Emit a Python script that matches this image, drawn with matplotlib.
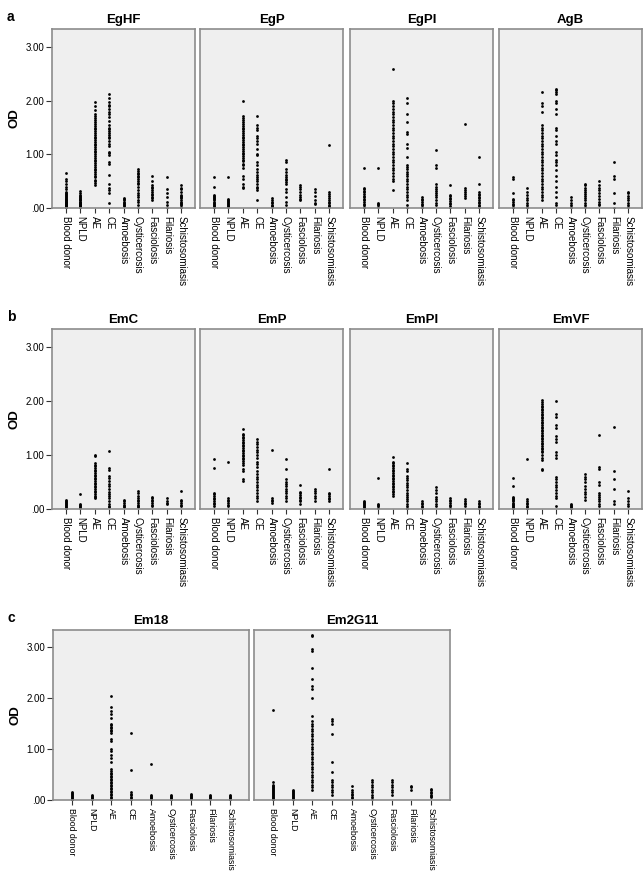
import matplotlib
matplotlib.use('Agg')
import matplotlib.pyplot as plt
import numpy as np

plt.rcParams['font.family'] = ['Liberation Sans', 'DejaVu Sans']

categories = ['Blood donor', 'NPLD', 'AE', 'CE', 'Amoebosis', 'Cysticercosis',
              'Fasciolosis', 'Filariosis', 'Schistosomiasis']
yticks = [0, 1, 2, 3]
ytick_labels = ['.00', '1.00', '2.00', '3.00']

# OD values per category (order as in categories)
EgHF = [
    [0.65, 0.55, 0.5, 0.45, 0.4, 0.35, 0.3, 0.28, 0.26, 0.24, 0.22, 0.2, 0.18, 0.16, 0.15, 0.14,
     0.13, 0.12, 0.11, 0.1, 0.09, 0.08, 0.07, 0.06, 0.05, 0.04, 0.03, 0.02, 0.01, 0.0],
    [0.32, 0.28, 0.25, 0.22, 0.2, 0.18, 0.16, 0.15, 0.14, 0.12, 0.11, 0.1, 0.09, 0.08, 0.07,
     0.06, 0.05, 0.04, 0.03, 0.02, 0.0],
    [1.97, 1.9, 1.83, 1.75, 1.72, 1.68, 1.65, 1.6, 1.57, 1.53, 1.5, 1.47, 1.43, 1.4, 1.37, 1.33,
     1.3, 1.27, 1.24, 1.2, 1.17, 1.14, 1.1, 1.07, 1.04, 1.0, 0.97, 0.94, 0.9, 0.87, 0.84, 0.8,
     0.77, 0.73, 0.7, 0.67, 0.63, 0.6, 0.57, 0.53, 0.5, 0.47, 0.43],
    [2.13, 2.05, 1.97, 1.93, 1.9, 1.85, 1.8, 1.75, 1.7, 1.62, 1.55, 1.5, 1.47, 1.43, 1.4, 1.37,
     1.33, 1.3, 1.25, 1.2, 1.15, 1.05, 1.02, 0.98, 0.85, 0.82, 0.62, 0.45, 0.38, 0.33, 0.28, 0.1],
    [0.18, 0.16, 0.14, 0.12, 0.1, 0.08, 0.06, 0.04],
    [0.72, 0.69, 0.66, 0.63, 0.6, 0.57, 0.54, 0.5, 0.47, 0.44, 0.4, 0.33, 0.28, 0.25, 0.2, 0.15,
     0.12, 0.05, 0.0],
    [0.6, 0.5, 0.43, 0.4, 0.37, 0.34, 0.3, 0.27, 0.24, 0.21, 0.18, 0.15],
    [0.57, 0.35, 0.28, 0.2, 0.12, 0.05, 0.0],
    [0.43, 0.38, 0.35, 0.3, 0.25, 0.22, 0.2, 0.18, 0.15, 0.12, 0.1, 0.07, 0.05, 0.02, 0.0],
]

EgP = [
    [0.58, 0.4, 0.25, 0.22, 0.2, 0.18, 0.16, 0.14, 0.12, 0.1, 0.08, 0.06, 0.04, 0.02, 0.0],
    [0.57, 0.17, 0.15, 0.13, 0.11, 0.09, 0.07, 0.05, 0.03, 0.01],
    [2.0, 1.72, 1.68, 1.65, 1.6, 1.57, 1.53, 1.5, 1.47, 1.43, 1.4, 1.37, 1.33, 1.3, 1.27, 1.23,
     1.2, 1.17, 1.13, 1.1, 1.07, 1.03, 1.0, 0.97, 0.93, 0.9, 0.87, 0.83, 0.8, 0.75, 0.6, 0.55,
     0.45, 0.4, 0.37],
    [1.72, 1.55, 1.5, 1.45, 1.35, 1.3, 1.25, 1.2, 1.1, 1.0, 0.98, 0.85, 0.8, 0.72, 0.68, 0.62,
     0.58, 0.55, 0.5, 0.45, 0.4, 0.38, 0.33, 0.15],
    [0.18, 0.15, 0.12, 0.09, 0.06, 0.03, 0.01],
    [0.9, 0.85, 0.72, 0.67, 0.62, 0.58, 0.55, 0.52, 0.48, 0.45, 0.35, 0.3, 0.2, 0.12, 0.05],
    [0.42, 0.4, 0.35, 0.3, 0.25, 0.2, 0.17, 0.15],
    [0.35, 0.3, 0.22, 0.15, 0.1, 0.07],
    [1.18, 0.3, 0.26, 0.22, 0.18, 0.15, 0.12, 0.09, 0.06, 0.03, 0.01],
]

EgPI = [
    [0.74, 0.38, 0.35, 0.32, 0.29, 0.26, 0.23, 0.2, 0.17, 0.14, 0.11, 0.08, 0.05, 0.02, 0.0],
    [0.74, 0.1, 0.07, 0.05, 0.02],
    [2.59, 2.0, 1.95, 1.9, 1.85, 1.8, 1.75, 1.7, 1.65, 1.6, 1.55, 1.5, 1.45, 1.4, 1.35, 1.3,
     1.25, 1.2, 1.15, 1.1, 1.05, 1.0, 0.95, 0.9, 0.85, 0.8, 0.75, 0.7, 0.65, 0.6, 0.55, 0.5, 0.33],
    [2.05, 1.95, 1.75, 1.6, 1.42, 1.38, 1.2, 1.12, 0.95, 0.8, 0.76, 0.72, 0.68, 0.64, 0.6, 0.55,
     0.5, 0.45, 0.4, 0.35, 0.3, 0.25, 0.2, 0.15, 0.05, 0.0],
    [0.2, 0.17, 0.14, 0.11, 0.08, 0.05, 0.02, 0.0],
    [1.09, 0.8, 0.75, 0.45, 0.4, 0.36, 0.32, 0.28, 0.25, 0.2, 0.15, 0.1, 0.05],
    [0.42, 0.25, 0.22, 0.19, 0.16, 0.13, 0.1, 0.07, 0.04, 0.0],
    [1.57, 0.38, 0.34, 0.3, 0.26, 0.22, 0.19],
    [0.95, 0.45, 0.3, 0.27, 0.24, 0.21, 0.18, 0.15, 0.12, 0.09, 0.06, 0.03, 0.0],
]

AgB = [
    [0.58, 0.55, 0.28, 0.17, 0.14, 0.11, 0.08, 0.05, 0.02, 0.0],
    [0.37, 0.3, 0.25, 0.18, 0.14, 0.1, 0.06, 0.02, 0.0],
    [2.17, 1.95, 1.9, 1.8, 1.55, 1.5, 1.45, 1.4, 1.35, 1.3, 1.25, 1.2, 1.15, 1.1, 1.05, 1.0,
     0.95, 0.9, 0.85, 0.8, 0.75, 0.7, 0.65, 0.6, 0.55, 0.5, 0.45, 0.4, 0.35, 0.3, 0.25, 0.2, 0.15],
    [2.22, 2.2, 2.17, 2.13, 2.0, 1.95, 1.85, 1.75, 1.5, 1.45, 1.35, 1.25, 1.2, 1.05, 0.98, 0.9,
     0.85, 0.8, 0.7, 0.6, 0.5, 0.4, 0.3, 0.2, 0.1, 0.05],
    [0.2, 0.15, 0.1, 0.05, 0.02, 0.0],
    [0.45, 0.42, 0.38, 0.34, 0.3, 0.26, 0.22, 0.18, 0.14, 0.1, 0.06, 0.02],
    [0.5, 0.42, 0.38, 0.33, 0.28, 0.22, 0.17, 0.12, 0.08, 0.05],
    [0.85, 0.6, 0.55, 0.28, 0.1, 0.0],
    [0.3, 0.28, 0.22, 0.18, 0.14, 0.1, 0.06, 0.02],
]

EmC = [
    [0.17, 0.15, 0.13, 0.11, 0.09, 0.07, 0.05, 0.03, 0.01, 0.0],
    [0.27, 0.1, 0.08, 0.06, 0.04, 0.02],
    [1.0, 0.98, 0.85, 0.82, 0.79, 0.76, 0.73, 0.7, 0.67, 0.64, 0.61, 0.58, 0.55, 0.52, 0.49,
     0.46, 0.43, 0.4, 0.37, 0.34, 0.31, 0.28, 0.25, 0.22, 0.2],
    [1.07, 0.77, 0.72, 0.62, 0.57, 0.52, 0.47, 0.42, 0.37, 0.32, 0.28, 0.24, 0.2, 0.15, 0.1,
     0.06, 0.03],
    [0.17, 0.14, 0.11, 0.08, 0.05, 0.03],
    [0.33, 0.3, 0.25, 0.2, 0.17, 0.14, 0.11, 0.08, 0.05, 0.03],
    [0.23, 0.2, 0.17, 0.14, 0.11, 0.08, 0.05],
    [0.2, 0.15, 0.12, 0.1],
    [0.33, 0.17, 0.14, 0.11, 0.08, 0.05],
]

EmP = [
    [0.93, 0.76, 0.3, 0.27, 0.24, 0.21, 0.18, 0.15, 0.12, 0.09, 0.06],
    [0.87, 0.2, 0.17, 0.14, 0.11, 0.08, 0.05],
    [1.48, 1.4, 1.37, 1.34, 1.31, 1.28, 1.25, 1.22, 1.19, 1.16, 1.13, 1.1, 1.07, 1.04, 1.01,
     0.98, 0.95, 0.92, 0.89, 0.86, 0.82, 0.75, 0.7, 0.55, 0.52],
    [1.3, 1.25, 1.2, 1.15, 1.1, 1.05, 1.0, 0.95, 0.88, 0.83, 0.78, 0.7, 0.65, 0.6, 0.55, 0.5,
     0.45, 0.4, 0.35, 0.3, 0.25, 0.2, 0.15],
    [1.09, 0.2, 0.17, 0.14, 0.11],
    [0.93, 0.74, 0.55, 0.5, 0.46, 0.42, 0.38, 0.34, 0.3, 0.25, 0.2, 0.15],
    [0.45, 0.32, 0.29, 0.26, 0.23, 0.2, 0.17, 0.14, 0.1],
    [0.37, 0.34, 0.3, 0.25, 0.2, 0.15],
    [0.74, 0.3, 0.27, 0.24, 0.21, 0.18, 0.15],
]

EmPI = [
    [0.15, 0.13, 0.11, 0.09, 0.07, 0.05, 0.03, 0.01, 0.0],
    [0.57, 0.1, 0.07, 0.05, 0.02],
    [0.97, 0.88, 0.85, 0.82, 0.79, 0.76, 0.73, 0.7, 0.67, 0.64, 0.61, 0.58, 0.55, 0.52, 0.49,
     0.46, 0.43, 0.4, 0.37, 0.34, 0.31, 0.28, 0.25],
    [0.86, 0.75, 0.7, 0.62, 0.58, 0.53, 0.48, 0.44, 0.4, 0.35, 0.3, 0.26, 0.22, 0.18, 0.14, 0.1,
     0.06, 0.02, 0.0],
    [0.15, 0.12, 0.09, 0.06, 0.03, 0.0],
    [0.4, 0.35, 0.3, 0.22, 0.18, 0.14, 0.1, 0.06],
    [0.2, 0.17, 0.14, 0.11, 0.08, 0.05, 0.02],
    [0.18, 0.15, 0.12, 0.09, 0.06],
    [0.15, 0.12, 0.09, 0.06, 0.03, 0.0],
]

EmVF = [
    [0.57, 0.42, 0.22, 0.2, 0.18, 0.16, 0.14, 0.12, 0.1, 0.08, 0.06, 0.04, 0.02, 0.0],
    [0.92, 0.18, 0.15, 0.12, 0.09, 0.06, 0.03, 0.0],
    [2.02, 1.98, 1.95, 1.92, 1.89, 1.86, 1.83, 1.8, 1.77, 1.74, 1.71, 1.68, 1.65, 1.62, 1.59,
     1.56, 1.53, 1.5, 1.47, 1.44, 1.41, 1.38, 1.35, 1.32, 1.29, 1.26, 1.23, 1.2, 1.17, 1.14,
     1.11, 1.08, 1.05, 1.0, 0.95, 0.9, 0.75, 0.72],
    [2.0, 1.77, 1.7, 1.55, 1.5, 1.35, 1.3, 1.25, 1.05, 1.0, 0.95, 0.6, 0.55, 0.5, 0.45, 0.4,
     0.35, 0.3, 0.25, 0.2, 0.05],
    [0.1, 0.08, 0.06, 0.04, 0.02, 0.0],
    [0.65, 0.6, 0.55, 0.5, 0.42, 0.37, 0.32, 0.27, 0.22, 0.17],
    [1.37, 0.78, 0.75, 0.5, 0.45, 0.3, 0.26, 0.22, 0.18, 0.14, 0.1, 0.05],
    [1.52, 0.71, 0.55, 0.38, 0.15, 0.1],
    [0.33, 0.2, 0.15, 0.1, 0.05],
]

Em18 = [
    [0.15, 0.13, 0.11, 0.09, 0.07, 0.05, 0.03, 0.01, 0.0],
    [0.1, 0.08, 0.06, 0.04, 0.02, 0.0],
    [2.05, 1.83, 1.75, 1.68, 1.62, 1.5, 1.47, 1.44, 1.41, 1.38, 1.35, 1.32, 1.2, 1.15, 1.0,
     0.97, 0.88, 0.82, 0.75, 0.6, 0.57, 0.54, 0.51, 0.48, 0.45, 0.42, 0.39, 0.36, 0.33, 0.3,
     0.27, 0.24, 0.21, 0.18, 0.15, 0.12, 0.09, 0.06, 0.03, 0.0],
    [1.32, 0.58, 0.15, 0.12, 0.09, 0.06, 0.03, 0.0],
    [0.71, 0.1, 0.08, 0.06, 0.04, 0.02, 0.0],
    [0.1, 0.08, 0.06, 0.04, 0.02, 0.0],
    [0.11, 0.09, 0.07, 0.05, 0.03, 0.01],
    [0.09, 0.07, 0.05, 0.03, 0.01],
    [0.1, 0.08, 0.06, 0.04, 0.02, 0.0],
]

Em2G11 = [
    [1.76, 0.35, 0.3, 0.28, 0.26, 0.24, 0.22, 0.2, 0.18, 0.16, 0.14, 0.12, 0.1, 0.08, 0.06,
     0.04, 0.02, 0.0],
    [0.2, 0.18, 0.16, 0.14, 0.12, 0.1, 0.08, 0.06, 0.04, 0.02, 0.0],
    [3.25, 3.22, 2.97, 2.92, 2.6, 2.37, 2.23, 2.18, 2.0, 1.65, 1.55, 1.5, 1.45, 1.4, 1.35, 1.3,
     1.25, 1.2, 1.15, 1.1, 1.05, 1.0, 0.95, 0.9, 0.85, 0.8, 0.75, 0.7, 0.65, 0.6, 0.55, 0.5,
     0.45, 0.4, 0.35, 0.3, 0.25, 0.2],
    [1.6, 1.55, 1.5, 1.3, 0.75, 0.55, 0.4, 0.35, 0.3, 0.25, 0.2, 0.15, 0.1],
    [0.28, 0.2, 0.15, 0.12, 0.09, 0.06, 0.03],
    [0.4, 0.35, 0.3, 0.25, 0.2, 0.15, 0.1, 0.05, 0.02],
    [0.4, 0.35, 0.3, 0.25, 0.2, 0.15, 0.1],
    [0.28, 0.25, 0.2],
    [0.22, 0.19, 0.16, 0.13, 0.1, 0.07, 0.05],
]

W, H = 643, 872
fig = plt.figure(figsize=(W / 100, H / 100), dpi=100)

# letter, panel top / bottom (px), panels, left edges (px), panel width (px), label size
rows = [
    ('a', 29, 208, [('EgHF', EgHF), ('EgP', EgP), ('EgPI', EgPI), ('AgB', AgB)],
     [52, 200, 350, 499], 143, 7),
    ('b', 329, 509, [('EmC', EmC), ('EmP', EmP), ('EmPI', EmPI), ('EmVF', EmVF)],
     [52, 200, 350, 499], 143, 7),
    ('c', 630, 800, [('Em18', Em18), ('Em2G11', Em2G11)], [53, 254], 196, 6.3),
]


def draw_panel(ax, title, data, first, lsize):
    ax.set_facecolor('#efefef')
    for s in ax.spines.values():
        s.set_color('#8c8c8c')
        s.set_linewidth(1.2)
    for i, vals in enumerate(data):
        ax.plot(np.full(len(vals), i), vals, 'o', ms=2.0, color='black', mec='none')
    ax.set_xlim(-0.95, 8.95)
    ax.set_ylim(0, 3.34)
    ax.set_xticks(range(len(categories)))
    ax.set_xticklabels(categories, rotation=270, fontsize=lsize, ha='center', va='top')
    ax.tick_params(axis='x', length=3.5, width=0.8, pad=2, color='#333333')
    ax.set_title(title, fontsize=9.5, fontweight='bold', pad=4)
    if first:
        ax.set_yticks(yticks)
        ax.set_yticklabels(ytick_labels, fontsize=7)
        ax.tick_params(axis='y', length=4, width=0.8, pad=1.5, color='#333333')
        ax.set_ylabel('OD', fontsize=9.5, fontweight='bold', labelpad=4)
    else:
        ax.set_yticks([])


for letter, top, bottom, panels, lefts, width, lsize in rows:
    for k, (title, data) in enumerate(panels):
        ax = fig.add_axes([lefts[k] / W, 1 - bottom / H, width / W, (bottom - top) / H])
        draw_panel(ax, title, data, k == 0, lsize)
    fig.text(7 / W, 1 - (top - 12) / H, letter, fontsize=10, fontweight='bold',
             ha='left', va='center')

fig.savefig('out.png', dpi=100)
